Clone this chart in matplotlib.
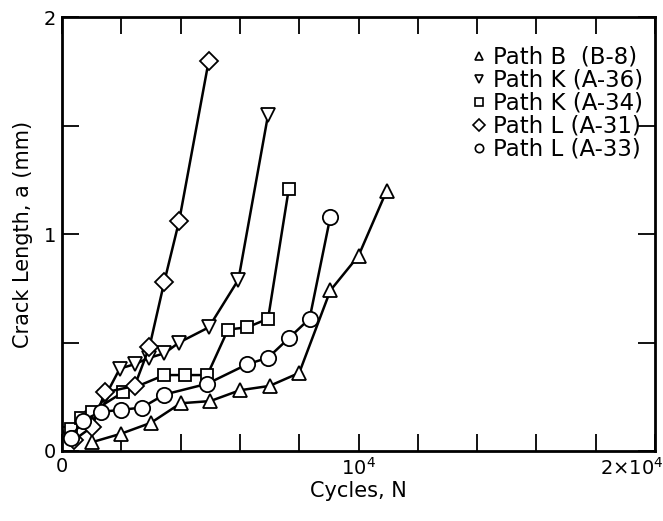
import matplotlib.pyplot as plt
from matplotlib.lines import Line2D
from matplotlib.ticker import MultipleLocator, FixedLocator
from matplotlib.transforms import ScaledTranslation

# Crack length vs. cycles
b8_x = [1000, 2000, 3000, 4000, 5000, 6000, 7000, 8000, 9050, 10000, 10950]
b8_y = [0.04, 0.08, 0.13, 0.22, 0.23, 0.28, 0.30, 0.36, 0.74, 0.90, 1.20]

a36_x = [200, 1000, 1450, 1950, 2450, 2950, 3450, 3950, 4950, 5950, 6950]
a36_y = [0.08, 0.15, 0.25, 0.38, 0.40, 0.43, 0.45, 0.50, 0.57, 0.79, 1.55]

a34_x = [300, 650, 1000, 2050, 3450, 4150, 4900, 5600, 6250, 6950, 7650]
a34_y = [0.10, 0.15, 0.18, 0.27, 0.35, 0.35, 0.35, 0.56, 0.57, 0.61, 1.21]

a31_x = [400, 1000, 1450, 2450, 2950, 3450, 3950, 4950]
a31_y = [0.05, 0.11, 0.27, 0.30, 0.48, 0.78, 1.06, 1.80]

a33_x = [300, 700, 1300, 2000, 2700, 3450, 4900, 6250, 6950, 7650, 8350, 9050]
a33_y = [0.06, 0.14, 0.18, 0.19, 0.20, 0.26, 0.31, 0.40, 0.43, 0.52, 0.61, 1.08]

labels = ['Path B  (B-8)', 'Path K (A-36)', 'Path K (A-34)', 'Path L (A-31)', 'Path L (A-33)']
markers = ['^', 'v', 's', 'D', 'o']
sizes = [10, 10, 9, 9, 11]

plt.rcParams['font.family'] = ['DejaVu Sans']

fig = plt.figure(figsize=(6.63, 5.21), dpi=100)
ax = fig.add_axes([0.0935, 0.1344, 0.8945, 0.8326])

series = [(b8_x, b8_y), (a36_x, a36_y), (a34_x, a34_y), (a31_x, a31_y), (a33_x, a33_y)]
for (x, y), m, s in zip(series, markers, sizes):
    ax.plot(x, y, color='black', lw=1.8, marker=m, ms=s,
            mfc='white', mec='black', mew=1.3)

ax.set_xlim(0, 20000)
ax.set_ylim(0, 2)
ax.xaxis.set_major_locator(FixedLocator([0, 10000, 20000]))
ax.xaxis.set_minor_locator(MultipleLocator(2000))
ax.set_xticklabels(['0', r'$10^4$', r'$2{\times}10^4$'])
ax.yaxis.set_major_locator(FixedLocator([0, 1, 2]))
ax.yaxis.set_minor_locator(MultipleLocator(0.5))
ax.set_yticklabels(['0', '1', '2'])

ax.tick_params(which='both', direction='in', top=True, right=True,
               width=1.3, labelsize=14)
ax.tick_params(which='major', length=12, pad=4)
ax.tick_params(which='minor', length=12)
for sp in ax.spines.values():
    sp.set_linewidth(2)

# keep the last x label inside the figure, like the reference
last = ax.get_xticklabels()[-1]
last.set_horizontalalignment('right')
last.set_transform(last.get_transform() + ScaledTranslation(6 / 72, 0, fig.dpi_scale_trans))

ax.set_xlabel('Cycles, N', fontsize=15, labelpad=2)
ax.set_ylabel('Crack Length, a (mm)', fontsize=15, labelpad=8)

handles = [Line2D([], [], ls='none', marker=m, ms=6, mfc='white', mec='black', mew=1.2)
           for m in markers]
ax.legend(handles, labels, loc='upper right', frameon=False, fontsize=16.5,
          handlelength=0.6, handletextpad=0.3, labelspacing=0.0,
          borderaxespad=0.0, bbox_to_anchor=(0.995, 0.955))

fig.savefig('out.png', dpi=100)
